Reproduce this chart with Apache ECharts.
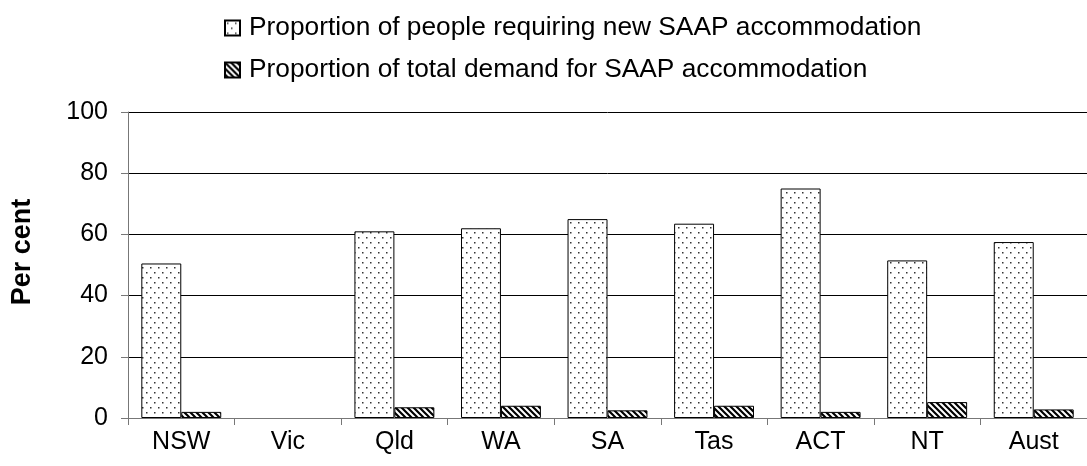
<!DOCTYPE html>
<html>
<head>
<meta charset="utf-8">
<script src="https://cdn.jsdelivr.net/npm/echarts@6/dist/echarts.min.js"></script>
<style>
  html, body { margin: 0; padding: 0; background: #fff; }
  #main { width: 1087px; height: 466px; }
</style>
</head>
<body>
<div id="main"></div>
<script>
// data
var categories = ['NSW', 'Vic', 'Qld', 'WA', 'SA', 'Tas', 'ACT', 'NT', 'Aust'];
var newAccommodation = [50.5, null, 61, 62, 65, 63.5, 75, 51.5, 57.5];
var totalDemand = [2, null, 3.5, 4, 2.5, 4, 2, 5.2, 2.8];
var seriesNames = [
  'Proportion of people requiring new SAAP accommodation',
  'Proportion of total demand for SAAP accommodation'
];

// dotted fill
function dotPattern() {
  var c = document.createElement('canvas');
  c.width = 8; c.height = 10;
  var ctx = c.getContext('2d');
  ctx.fillStyle = '#fff';
  ctx.fillRect(0, 0, 8, 10);
  ctx.fillStyle = '#333';
  ctx.fillRect(2, 2, 1.5, 1.5);
  ctx.fillRect(6, 7, 1.5, 1.5);
  return c;
}

// diagonal hatch
function hatchPattern() {
  var c = document.createElement('canvas');
  c.width = 6; c.height = 6;
  var ctx = c.getContext('2d');
  ctx.fillStyle = '#fff';
  ctx.fillRect(0, 0, 6, 6);
  ctx.strokeStyle = '#000';
  ctx.lineWidth = 2.2;
  ctx.beginPath();
  ctx.moveTo(-3, -3); ctx.lineTo(9, 9);
  ctx.moveTo(-3, 3); ctx.lineTo(3, 9);
  ctx.moveTo(3, -3); ctx.lineTo(9, 3);
  ctx.stroke();
  return c;
}

var myChart = echarts.init(document.getElementById('main'));

myChart.setOption({
  animation: false,
  textStyle: { fontFamily: 'Liberation Sans, Arial, sans-serif' },
  legend: {
    orient: 'vertical',
    left: 219,
    top: 9,
    itemWidth: 15,
    itemHeight: 15,
    itemGap: 14,
    icon: 'rect',
    textStyle: { fontSize: 26.3, lineHeight: 28, color: '#000', padding: [0, 0, 0, 4] },
    data: seriesNames
  },
  grid: {
    left: 128,
    right: -4,
    top: 112,
    bottom: 48
  },
  xAxis: {
    type: 'category',
    data: categories,
    axisLine: { lineStyle: { color: '#777', width: 1 } },
    axisTick: { show: true, length: 7, lineStyle: { color: '#777' } },
    axisLabel: { fontSize: 25, color: '#000', margin: 12 }
  },
  yAxis: {
    type: 'value',
    min: 0,
    max: 100,
    interval: 20,
    name: 'Per cent',
    nameLocation: 'middle',
    nameGap: 92,
    nameTextStyle: { fontSize: 27, fontWeight: 'bold', color: '#000', padding: [0, 0, 0, 26] },
    axisLine: { show: true, lineStyle: { color: '#777' } },
    axisTick: { show: true, inside: false, length: 7, lineStyle: { color: '#777' } },
    axisLabel: { fontSize: 25, color: '#000', margin: 20 },
    splitLine: { show: true, lineStyle: { color: '#000', width: 1 } }
  },
  series: [
    {
      name: seriesNames[0],
      type: 'bar',
      data: newAccommodation,
      barGap: '0%',
      barCategoryGap: '25%',
      itemStyle: {
        color: { image: dotPattern(), repeat: 'repeat' },
        borderColor: '#000',
        borderWidth: 1
      }
    },
    {
      name: seriesNames[1],
      type: 'bar',
      data: totalDemand,
      itemStyle: {
        color: { image: hatchPattern(), repeat: 'repeat' },
        borderColor: '#000',
        borderWidth: 1
      }
    }
  ]
});

window.myChart = myChart;
</script>
</body>
</html>
